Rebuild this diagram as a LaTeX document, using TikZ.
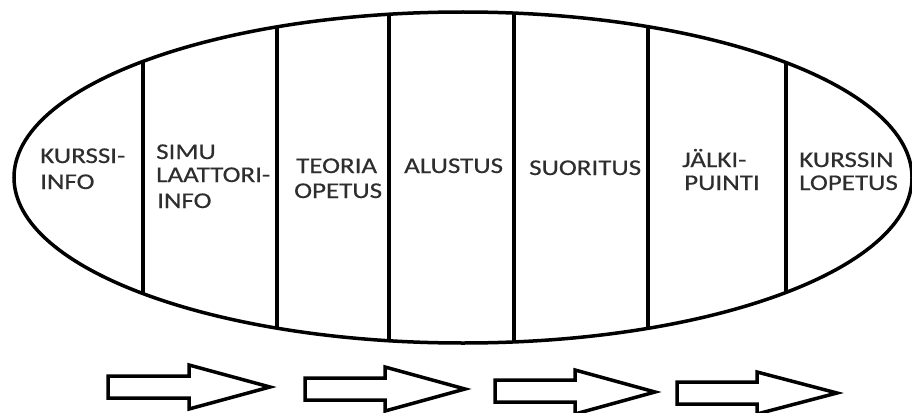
\documentclass[tikz,border=0pt]{standalone}
\usepackage{fontspec}
\newfontfamily\labfont[FakeStretch=1.2,FakeBold=0.4]{Carlito}
\begin{document}
\begin{tikzpicture}[x=1pt,y=-1pt,
  lab/.style={anchor=base west,inner sep=0pt,text=black!82,font=\labfont\fontsize{22.5}{25}\selectfont},
  divider/.style={line width=4.5pt},
  rim/.style={line width=3.5pt},
  blockarrow/.style={line width=3.5pt,fill=white,line join=miter}]
\useasboundingbox (0,0) rectangle (912,412);
\fill[white] (0,0) rectangle (912,412);
% ellipse and dividers
\begin{scope}
  \clip (463,177.5) ellipse [x radius=449pt, y radius=165.5pt];
  \foreach \xx in {143,277,389,514,648,786}
    \draw[divider] (\xx,0) -- (\xx,412);
\end{scope}
\draw[rim] (463,177.5) ellipse [x radius=449pt, y radius=165.5pt];
% labels
\node[lab] (l1a) at (40,163) {KURSSI-};
\node[lab] (l1b) at (40,189) {INFO};
\node[lab] (l2a) at (156,159) {SIMU};
\node[lab] (l2b) at (156,182) {LAATTORI-};
\node[lab] (l2c) at (157,208) {INFO};
\node[lab] (l3a) at (296,173) {TEORIA};
\node[lab] (l3b) at (294,198) {OPETUS};
\node[lab] (l4a) at (404,173) {ALUSTUS};
\node[lab] (l5a) at (529,175) {SUORITUS};
\node[lab] (l6a) at (682,167) {JÄLKI-};
\node[lab] (l6b) at (684,190) {PUINTI};
\node[lab] (l7a) at (799,167) {KURSSIN};
\node[lab] (l7b) at (799,190) {LOPETUS};
% block arrows
\draw[blockarrow] (108,376) -- (189,376) -- (189,365) -- (270,387) -- (189,409) -- (189,398) -- (108,398) -- cycle;
\draw[blockarrow] (305,378) -- (385,378) -- (385,367) -- (465,389) -- (385,411) -- (385,400) -- (305,400) -- cycle;
\draw[blockarrow] (495,380) -- (575,380) -- (575,370) -- (655,392) -- (575,414) -- (575,402) -- (495,402) -- cycle;
\draw[blockarrow] (677,382) -- (757,382) -- (757,372) -- (837,393) -- (757,414) -- (757,404) -- (677,404) -- cycle;
\end{tikzpicture}
\end{document}
